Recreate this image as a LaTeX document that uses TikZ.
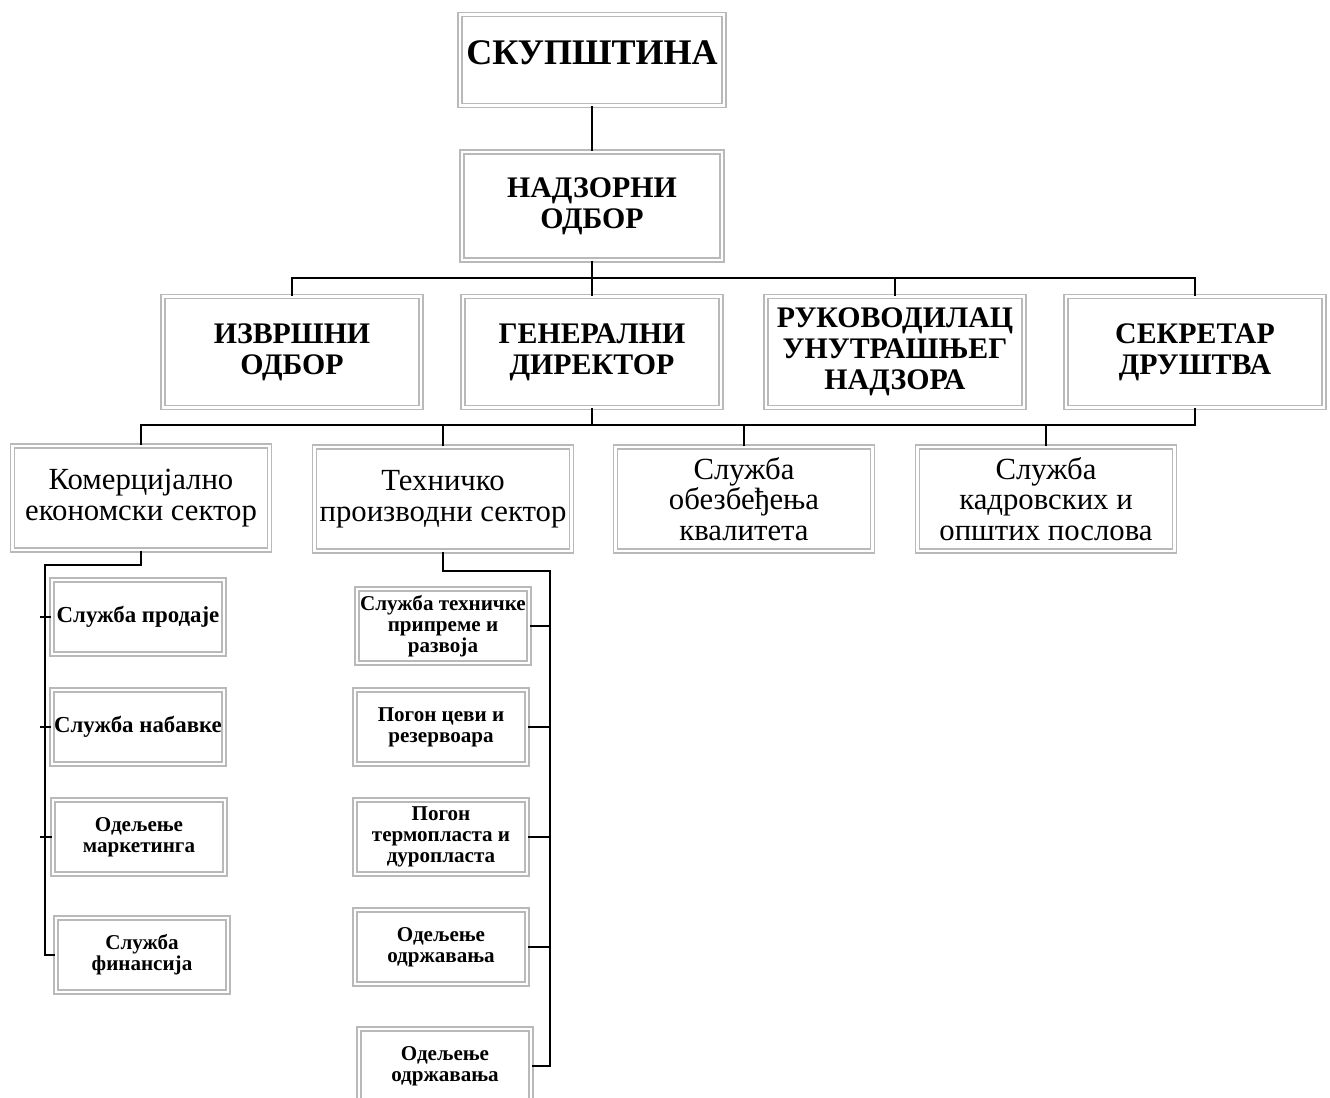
\documentclass[tikz,border=0pt]{standalone}
\usepackage{fontspec}
\setmainfont{Liberation Serif}
\begin{document}
\begin{tikzpicture}[x=0.02cm, y=-0.02cm,
    box/.style={draw=gray!55, double=white, double distance=1.4pt, line width=0.75pt, align=center, inner sep=0pt},
    boss/.style={box, minimum width=5.16cm, minimum height=2.22cm, font=\fontsize{17}{17.5}\selectfont\bfseries},
    sector/.style={box, minimum width=5.14cm, minimum height=2.08cm, font=\fontsize{17.5}{17.5}\selectfont},
    unit/.style={box, minimum width=3.44cm, minimum height=1.48cm, font=\fontsize{12}{12}\selectfont\bfseries},
    link/.style={line width=0.8pt}]
    \useasboundingbox [fill=white] (0, 0) rectangle (1330, 1098);

    \node [box, minimum width=5.28cm, minimum height=1.82cm, text depth=0.3cm, font=\fontsize{20.5}{21}\selectfont\bfseries] (skup) at (592, 60) {СКУПШТИНА};
    \node [boss, minimum width=5.2cm, minimum height=2.16cm] (nadz) at (592, 206) {НАДЗОРНИ\\ОДБОР};

    \node [boss] (izvr) at (292, 352) {ИЗВРШНИ\\ОДБОР};
    \node [boss] (gen) at (592, 352) {ГЕНЕРАЛНИ\\ДИРЕКТОР};
    \node [boss] (ruk) at (895, 352) {РУКОВОДИЛАЦ\\УНУТРАШЊЕГ\\НАДЗОРА};
    \node [boss] (sek) at (1195, 352) {СЕКРЕТАР\\ДРУШТВА};

    \node [sector] (kom) at (141, 498) {Комерцијално\\економски сектор};
    \node [sector] (teh) at (443, 499) {Техничко\\производни сектор};
    \node [sector] (kval) at (744, 499) {Служба\\обезбеђења\\квалитета};
    \node [sector] (kadr) at (1046, 499) {Служба\\кадровских и\\општих послова};

    \node [unit, font=\fontsize{13}{13}\selectfont\bfseries] (prod) at (138, 617) {Служба продаје};
    \node [unit, font=\fontsize{13}{13}\selectfont\bfseries] (nab) at (138, 727) {Служба набавке};
    \node [unit] (mark) at (139, 837) {Одељење\\маркетинга};
    \node [unit] (fin) at (142, 955) {Служба\\финансија};

    \node [unit] (tpr) at (443, 626) {Служба техничке\\припреме и\\развоја};
    \node [unit] (cev) at (441, 727) {Погон цеви и\\резервоара};
    \node [unit] (term) at (441, 837) {Погон\\термопласта и\\дуропласта};
    \node [unit] (odr) at (441, 947) {Одељење\\одржавања};
    \node [unit] (odrb) at (445, 1066) {Одељење\\одржавања};

    \coordinate (bus1) at (592, 278);
    \coordinate (bus2) at (592, 425);
    \coordinate (lbus) at (45, 565);
    \coordinate (rbus) at (550, 571);

    \draw [link] (skup) -- (nadz);
    \draw [link] (nadz) -- (gen);
    \draw [link] (izvr.north) -- (izvr.north |- bus1) -- (sek.north |- bus1) -- (sek.north);
    \draw [link] (ruk.north) -- (ruk.north |- bus1);

    \draw [link] (kom.north) -- (kom.north |- bus2) -- (sek.south |- bus2) -- (sek.south);
    \draw [link] (gen.south) -- (bus2);
    \draw [link] (teh.north) -- (teh.north |- bus2);
    \draw [link] (kval.north) -- (kval.north |- bus2);
    \draw [link] (kadr.north) -- (kadr.north |- bus2);

    \draw [link] (kom.south) -- (kom.south |- lbus) -- (lbus) -- (lbus |- fin.west) -- (fin.west);
    \draw [link] ([xshift=-0.1cm]lbus |- prod.west) -- (prod.west);
    \draw [link] ([xshift=-0.1cm]lbus |- nab.west) -- (nab.west);
    \draw [link] ([xshift=-0.1cm]lbus |- mark.west) -- (mark.west);

    \draw [link] (teh.south) -- (teh.south |- rbus) -- (rbus) -- (rbus |- odrb.east) -- (odrb.east);
    \draw [link] (rbus |- tpr.east) -- (tpr.east);
    \draw [link] (rbus |- cev.east) -- (cev.east);
    \draw [link] (rbus |- term.east) -- (term.east);
    \draw [link] (rbus |- odr.east) -- (odr.east);
  \end{tikzpicture}
\end{document}
